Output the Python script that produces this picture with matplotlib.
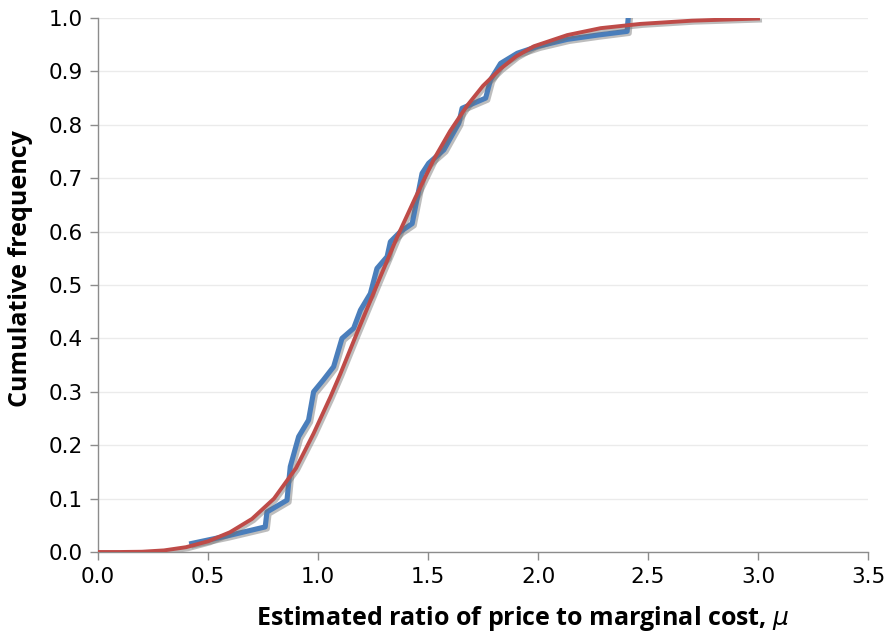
import matplotlib
matplotlib.use("Agg")
import matplotlib.pyplot as plt
import matplotlib.patheffects as pe

# Empirical cumulative distribution (blue)
emp_x = [0.426, 0.586, 0.760, 0.768, 0.859, 0.874, 0.912, 0.957, 0.980, 1.024,
         1.071, 1.109, 1.162, 1.193, 1.238, 1.268, 1.314, 1.329, 1.375, 1.428,
         1.473, 1.503, 1.572, 1.640, 1.655, 1.762, 1.784, 1.830, 1.906, 2.000,
         2.133, 2.270, 2.405, 2.410]
emp_y = [0.016, 0.030, 0.047, 0.075, 0.097, 0.160, 0.216, 0.247, 0.300, 0.322,
         0.347, 0.400, 0.419, 0.453, 0.484, 0.531, 0.553, 0.581, 0.600, 0.615,
         0.709, 0.728, 0.753, 0.803, 0.831, 0.850, 0.884, 0.915, 0.934, 0.947,
         0.960, 0.968, 0.975, 1.000]

# Fitted cumulative distribution (red)
fit_x = [0.0, 0.10, 0.20, 0.30, 0.40, 0.50, 0.60, 0.70, 0.80, 0.90,
         0.980, 1.056, 1.101, 1.177, 1.284, 1.360, 1.443, 1.526, 1.600, 1.678,
         1.750, 1.830, 1.900, 1.981, 2.133, 2.285, 2.467, 2.700, 3.000]
fit_y = [0.0, 0.0, 0.0005, 0.003, 0.009, 0.020, 0.037, 0.062, 0.100, 0.157,
         0.222, 0.290, 0.333, 0.410, 0.516, 0.590, 0.664, 0.735, 0.788, 0.836,
         0.873, 0.905, 0.928, 0.947, 0.968, 0.981, 0.989, 0.995, 0.999]

x_ticks = [0.0, 0.5, 1.0, 1.5, 2.0, 2.5, 3.0, 3.5]
y_ticks = [0.0, 0.1, 0.2, 0.3, 0.4, 0.5, 0.6, 0.7, 0.8, 0.9, 1.0]

fig = plt.figure(figsize=(8.88, 6.4), dpi=100)
ax = fig.add_axes([98/888, 1 - 552/640, (868 - 98)/888, (552 - 18)/640])

shadow = [pe.SimpleLineShadow(offset=(1.5, -1.5), shadow_color='#6E6E6E', alpha=0.45),
          pe.Normal()]

ax.plot(emp_x, emp_y, color='#4A7EBB', lw=3.7, solid_joinstyle='round',
        path_effects=shadow, zorder=3)
ax.plot(fit_x, fit_y, color='#BE4B48', lw=2.8, solid_joinstyle='round',
        path_effects=shadow, zorder=4)

ax.set_xlim(0, 3.5)
ax.set_ylim(0, 1.0)
ax.set_xticks(x_ticks)
ax.set_yticks(y_ticks)
ax.set_xticklabels([f"{v:.1f}" for v in x_ticks])
ax.set_yticklabels([f"{v:.1f}" for v in y_ticks])

ax.grid(axis='y', color='#EBEBEB', lw=1.0)
ax.set_axisbelow(True)
for s in ['top', 'right']:
    ax.spines[s].set_visible(False)
for s in ['left', 'bottom']:
    ax.spines[s].set_color('#8C8C8C')
    ax.spines[s].set_linewidth(1.0)

ax.tick_params(axis='both', direction='out', length=6, width=1.0,
               color='#8C8C8C', labelsize=15.5, labelcolor='black', pad=5)
for lab in ax.get_xticklabels() + ax.get_yticklabels():
    lab.set_family('DejaVu Sans')

ax.set_xlabel('Estimated ratio of price to marginal cost, $\\mu$',
              fontsize=18, fontweight='bold', family=['Open Sans', 'DejaVu Sans'])
ax.set_ylabel('Cumulative frequency', fontsize=18, fontweight='bold',
              family=['Open Sans', 'DejaVu Sans'])
ax.xaxis.set_label_coords(0.552, -0.098)
ax.yaxis.set_label_coords(-0.084, 0.53)

fig.savefig('out.png', dpi=100)
